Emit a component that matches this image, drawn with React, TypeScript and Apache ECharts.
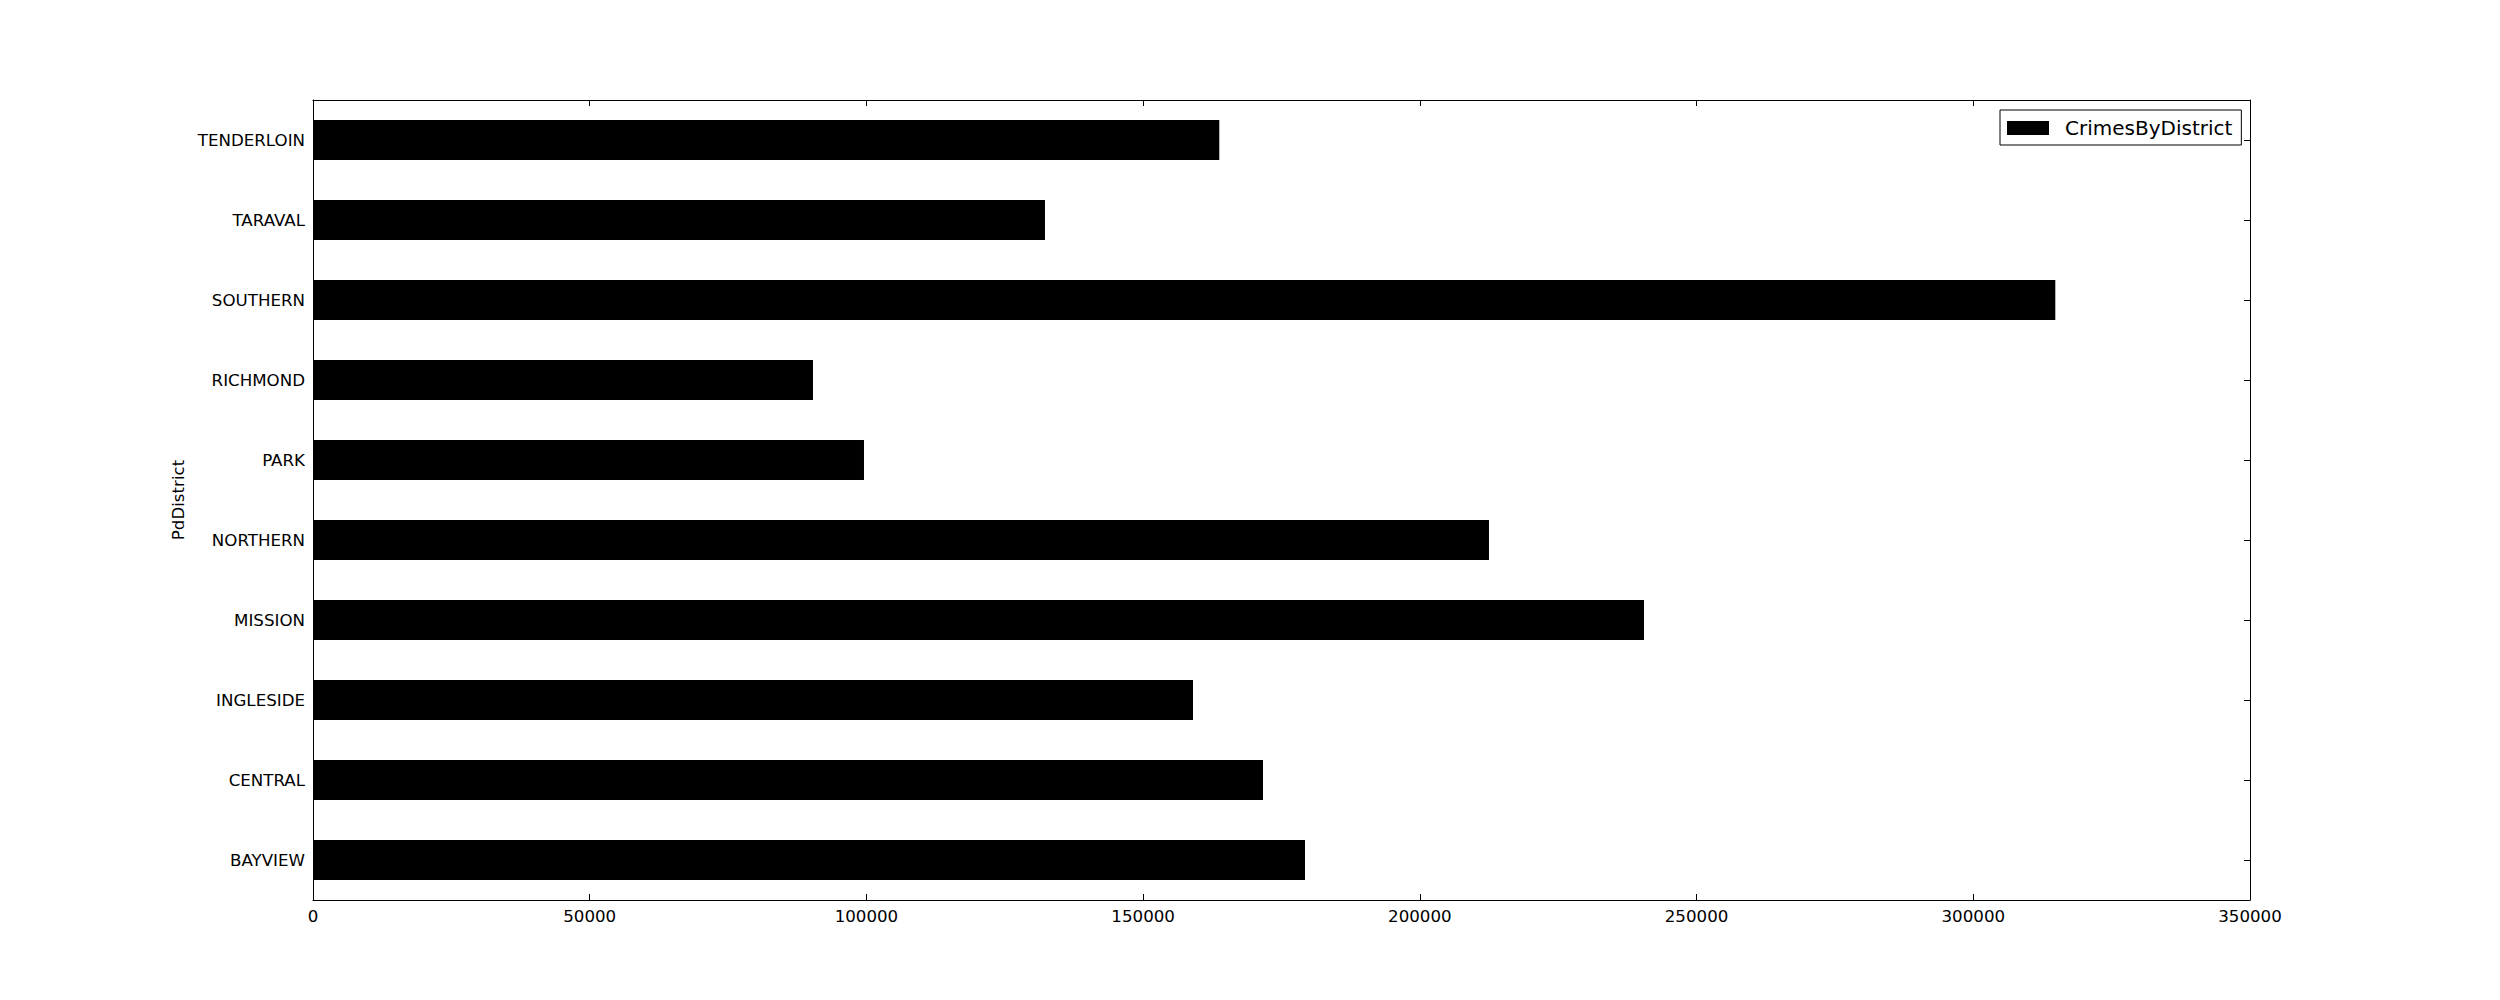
import React, { useEffect, useRef } from "react";
import * as echarts from "echarts";

const districts = [
  "BAYVIEW",
  "CENTRAL",
  "INGLESIDE",
  "MISSION",
  "NORTHERN",
  "PARK",
  "RICHMOND",
  "SOUTHERN",
  "TARAVAL",
  "TENDERLOIN",
];
const crimesByDistrict = [
  179245, 171655, 159007, 240500, 212490, 99560, 90345, 314820, 132265, 163760,
];
const xMin = 0;
const xMax = 350000;
const xInterval = 50000;
const seriesName = "CrimesByDistrict";
const yAxisTitle = "PdDistrict";

const FONT = "DejaVu Sans";

export default function App() {
  const ref = useRef<HTMLDivElement>(null);
  useEffect(() => {
    document.body.style.margin = "0";
    if (!ref.current) return;
    const chart = echarts.init(ref.current, null, { renderer: "svg" });
    const axisLine = { show: true, onZero: false, lineStyle: { color: "#000", width: 1 } };
    const tickStyle = { show: true, inside: true, length: 6, lineStyle: { color: "#000", width: 1 } };
    chart.setOption({
      animation: false,
      backgroundColor: "#fff",
      textStyle: { fontFamily: FONT },
      grid: { left: 313, top: 100, width: 1937, height: 800, containLabel: false },
      legend: {
        show: true,
        left: 2000,
        top: 110,
        padding: [8, 9, 7, 7],
        borderColor: "#000",
        borderWidth: 1,
        borderRadius: 0,
        backgroundColor: "#fff",
        icon: "rect",
        itemWidth: 42,
        itemHeight: 14,
        data: [seriesName],
        textStyle: { fontFamily: FONT, fontSize: 20, color: "#000", padding: [0, 0, 0, 11] },
      },
      xAxis: [
        {
          type: "value",
          position: "bottom",
          min: xMin,
          max: xMax,
          interval: xInterval,
          axisLine,
          axisTick: tickStyle,
          splitLine: { show: false },
          axisLabel: {
            color: "#000",
            fontFamily: FONT,
            fontSize: 16.67,
            margin: 8,
            formatter: (v: number) => String(v),
          },
        },
        {
          type: "value",
          position: "top",
          min: xMin,
          max: xMax,
          interval: xInterval,
          axisLine,
          axisTick: tickStyle,
          splitLine: { show: false },
          axisLabel: { show: false },
        },
      ],
      yAxis: [
        {
          type: "category",
          position: "left",
          data: districts,
          axisLine,
          axisTick: { ...tickStyle, alignWithLabel: true },
          axisLabel: { color: "#000", fontFamily: FONT, fontSize: 16.67, margin: 8 },
          name: yAxisTitle,
          nameLocation: "middle",
          nameRotate: 90,
          nameGap: 114,
          nameTextStyle: { color: "#000", fontFamily: FONT, fontSize: 16.67 },
        },
        {
          type: "category",
          position: "right",
          data: districts,
          axisLine,
          axisTick: { ...tickStyle, alignWithLabel: true },
          axisLabel: { show: false },
        },
      ],
      series: [
        {
          name: seriesName,
          type: "bar",
          xAxisIndex: 0,
          yAxisIndex: 0,
          data: crimesByDistrict,
          barWidth: "50%",
          itemStyle: { color: "#000" },
        },
      ],
    });
    return () => chart.dispose();
  }, []);
  return <div ref={ref} style={{ width: 2500, height: 1000 }} />;
}
